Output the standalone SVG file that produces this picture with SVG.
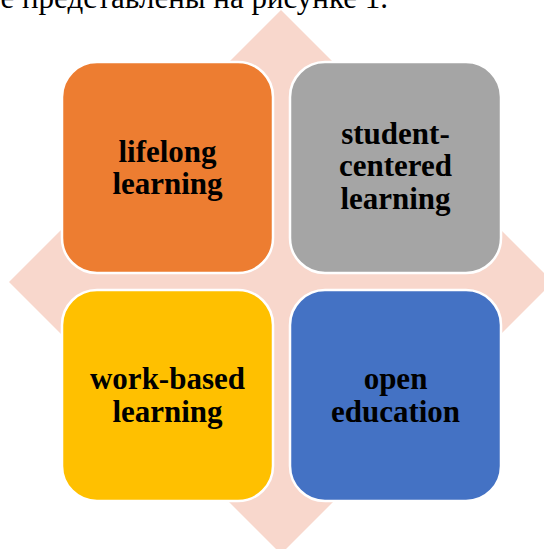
<svg xmlns="http://www.w3.org/2000/svg" width="544" height="549" viewBox="0 0 544 549">
  <style>
    .box { stroke: #FFFFFF; stroke-width: 2.5; }
    .lbl { font-family: "Liberation Serif", "Times New Roman", serif; font-weight: bold; font-size: 31px; fill: #000000; text-anchor: middle; }
    .cap { font-family: "Liberation Serif", "Times New Roman", serif; font-size: 31px; fill: #000000; }
  </style>
  <rect x="0" y="0" width="544" height="549" fill="#FFFFFF"/>
  <text class="cap" x="388" y="7.5" text-anchor="end">е представлены на рисунке 1.</text>
  <g id="background">
    <polygon points="281,10 553,282 281,554 9,282" fill="#F8D7CC"/>
  </g>
  <g id="connectors"></g>
  <g id="node-lifelong">
    <rect class="box" x="62" y="62" width="211" height="211" rx="35" ry="35" fill="#ED7D31"/>
    <text class="lbl" x="167.5" y="161.5">lifelong</text>
    <text class="lbl" x="167.5" y="193.5">learning</text>
  </g>
  <g id="node-student">
    <rect class="box" x="290" y="62" width="211" height="211" rx="35" ry="35" fill="#A5A5A5"/>
    <text class="lbl" x="395.5" y="143.5">student-</text>
    <text class="lbl" x="395.5" y="176">centered</text>
    <text class="lbl" x="395.5" y="208.5">learning</text>
  </g>
  <g id="node-work">
    <rect class="box" x="62" y="290" width="211" height="211" rx="35" ry="35" fill="#FFC000"/>
    <text class="lbl" x="167.5" y="389">work-based</text>
    <text class="lbl" x="167.5" y="422">learning</text>
  </g>
  <g id="node-open">
    <rect class="box" x="290" y="290" width="211" height="211" rx="35" ry="35" fill="#4472C4"/>
    <text class="lbl" x="395.5" y="389">open</text>
    <text class="lbl" x="395.5" y="422">education</text>
  </g>
</svg>
